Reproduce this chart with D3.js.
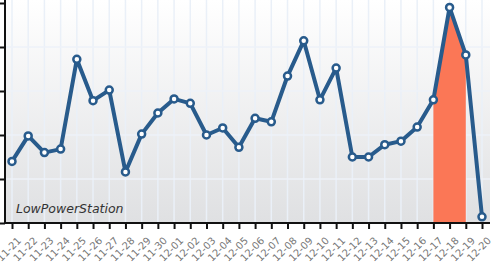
<!DOCTYPE html>
<html>
<head>
<meta charset="utf-8">
<script src="https://cdn.jsdelivr.net/npm/d3@7"></script>
<style>
  body { margin: 0; background: #fff; }
  svg { display: block; }
</style>
</head>
<body>
<div id="chart"></div>
<script>
const width = 500
const height = 262
const days = ["11-21","11-22","11-23","11-24","11-25","11-26","11-27","11-28","11-29","11-30",
  "12-01","12-02","12-03","12-04","12-05","12-06","12-07","12-08","12-09","12-10",
  "12-11","12-12","12-13","12-14","12-15","12-16","12-17","12-18","12-19","12-20"];
const power = [70, 99, 80, 84, 186, 139, 151, 58, 101, 125,
  141, 136, 100, 108, 86, 119, 115, 167, 207, 140,
  176, 75, 75, 89, 93, 109, 140, 245, 191, 7];
const highlight = ["12-17", "12-19"];
const yTicks = [0, 50, 100, 150, 200, 250];
const label = "LowPowerStation";

const plotLeft = 5, plotRight = 490, plotTop = 3, plotBottom = 223;

const svg = d3.select("#chart")
  .append("svg")
  .attr("width", width)
  .attr("height", height);

const x = d3.scalePoint().domain(days).range([12, 482]);
const y = d3.scaleLinear().domain([0, 250]).range([plotBottom, plotTop]);

const defs = svg.append("defs");
const grad = defs.append("linearGradient")
  .attr("id", "bg").attr("x1", 0).attr("y1", 0).attr("x2", 0).attr("y2", 1);
grad.append("stop").attr("offset", "0%").attr("stop-color", "#ffffff");
grad.append("stop").attr("offset", "100%").attr("stop-color", "#dfe0e2");

svg.append("rect")
  .attr("x", plotLeft).attr("y", 0)
  .attr("width", plotRight - plotLeft).attr("height", plotBottom)
  .attr("fill", "url(#bg)");

// grid
svg.append("g").selectAll("line")
  .data(days)
  .join("line")
  .attr("x1", d => x(d)).attr("x2", d => x(d))
  .attr("y1", 0).attr("y2", plotBottom)
  .attr("stroke", "#eaf0f8")
  .attr("stroke-width", 1.5);

svg.append("g").selectAll("line")
  .data(yTicks.slice(1, -1))
  .join("line")
  .attr("x1", plotLeft).attr("x2", plotRight)
  .attr("y1", d => y(d)).attr("y2", d => y(d))
  .attr("stroke", "#eef2f8")
  .attr("stroke-width", 1.5);

// highlighted area under the line
const i0 = days.indexOf(highlight[0]), i1 = days.indexOf(highlight[1]);
const pts = days.map((d, i) => ({ day: d, v: power[i] }));
const area = d3.area()
  .x(d => x(d.day))
  .y0(plotBottom)
  .y1(d => y(d.v));
svg.append("path")
  .datum(pts.slice(i0, i1 + 1))
  .attr("d", area)
  .attr("fill", "#fb7756");

svg.append("text")
  .attr("x", 16).attr("y", 213)
  .attr("font-family", "DejaVu Sans, sans-serif")
  .attr("font-style", "italic")
  .attr("font-size", 12.5)
  .attr("fill", "#333")
  .text(label);

// axes
const yAxis = svg.append("g")
  .attr("transform", `translate(${plotLeft},0)`)
  .call(d3.axisLeft(y).tickValues(yTicks).tickSize(5).tickFormat(""));
yAxis.select(".domain").attr("stroke", "#111").attr("stroke-width", 2).attr("d", `M0,0V${plotBottom}`);
yAxis.selectAll(".tick line").attr("stroke", "#111").attr("stroke-width", 2);

const xAxis = svg.append("g")
  .attr("transform", `translate(0,${plotBottom})`)
  .call(d3.axisBottom(x).tickSize(6));
xAxis.select(".domain").attr("stroke", "#111").attr("stroke-width", 2).attr("d", `M${plotLeft},0H${plotRight}`);
xAxis.selectAll(".tick line").attr("stroke", "#111").attr("stroke-width", 2);
xAxis.selectAll(".tick text")
  .attr("font-family", "DejaVu Sans, sans-serif")
  .attr("font-size", 10)
  .attr("fill", "#777")
  .attr("text-anchor", "end")
  .attr("dx", 0).attr("dy", 0)
  .attr("transform", "translate(3,12) rotate(-45)");

// line + markers
const line = d3.line().x(d => x(d.day)).y(d => y(d.v));
svg.append("path")
  .datum(pts)
  .attr("d", line)
  .attr("fill", "none")
  .attr("stroke", "#285b8c")
  .attr("stroke-width", 4)
  .attr("stroke-linejoin", "round");

svg.append("g").selectAll("circle")
  .data(pts)
  .join("circle")
  .attr("cx", d => x(d.day))
  .attr("cy", d => y(d.v))
  .attr("r", 3.5)
  .attr("fill", "#fff")
  .attr("stroke", "#285b8c")
  .attr("stroke-width", 2.5);
</script>
</body>
</html>
